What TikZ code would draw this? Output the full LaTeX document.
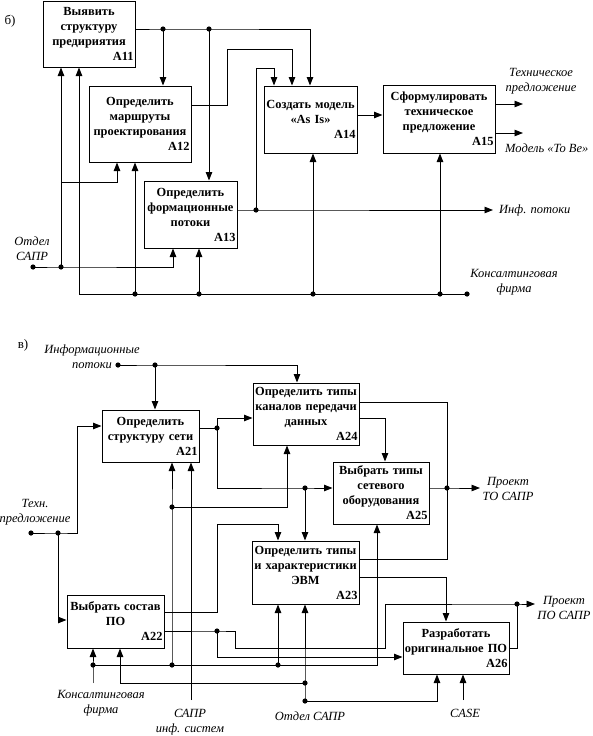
\documentclass[tikz,border=0pt]{standalone}
\usepackage{fontspec}
\setmainfont{Liberation Serif}
\usepackage{tikz}
\usetikzlibrary{arrows.meta, positioning, calc}

\begin{document}
\begin{tikzpicture}[
  x=1pt, y=-1pt,
  box/.style 2 args={rectangle, draw, line width=1pt, align=center,
    inner xsep=0pt, inner ysep=0pt, text width=#1pt, minimum height=#2pt,
    font=\fontsize{12.4}{15}\selectfont\bfseries},
  arr/.style={-{Triangle[length=8.5pt, width=6.5pt]}, line width=0.9pt},
  ln/.style={line width=0.9pt},
  lbl/.style={align=center, inner sep=0pt,
    font=\fontsize{12.5}{15}\selectfont\itshape},
  tag/.style={inner sep=0pt, font=\fontsize{13}{15}\selectfont}
]
\useasboundingbox (0,0) rectangle (593,736);

% part b
\node[tag] (tb) at (10,21) {б)};
\node[box={92}{66}] (a11) at (89,34) {Выявить\\структуру\\предириятия\\\hspace*{\fill}A11\kern1.5pt};
\node[box={102}{76}] (a12) at (140,124) {Определить\\маршруты\\проектирования\\\hspace*{\fill}A12\kern1.5pt};
\node[box={93}{67}] (a13) at (190.5,214.5) {Определить\\формационные\\потоки\\\hspace*{\fill}A13\kern1.5pt};
\node[box={93}{67}] (a14) at (310.5,119.5) {Создать модель\\«As Is»\\\hspace*{\fill}A14\kern1.5pt};
\node[box={112}{68}] (a15) at (439,119) {Сформулировать\\техническое\\предложение\\\hspace*{\fill}A15\kern1.5pt};

\coordinate (j1) at (163,29);
\coordinate (j2) at (209,29);
\coordinate (j3) at (256,210);
\coordinate (otd1) at (33,267);
\coordinate (j4) at (61,267);
\coordinate (j9) at (61,182);
\coordinate (kons1) at (467,294);
\coordinate (j5) at (135,294);
\coordinate (j6) at (199,294);
\coordinate (j7) at (313,294);
\coordinate (j8) at (440,294);
\coordinate (inf) at (493,210);
\coordinate (tp) at (523,104);
\coordinate (tobe) at (523,133);

\draw[arr] (a11.east |- j1) -- (j1) -- (j2) -| (a14.north -| 310,0);
\draw[arr] (j1) -- (j1 |- a12.north);
\draw[arr] (j2) -- (j2 |- a13.north);
\draw[arr] (a12.east |- 0,105) -| (227,49) -| (a14.north -| 292,0);
\draw[arr] (a13.east |- j3) -- (j3) -- (inf);
\draw[arr] (j3) |- (274,68) -- (a14.north -| 274,0);
\draw[arr] (a14.east |- 0,115) -- (a15.west |- 0,115);
\draw[arr] (a15.east |- tp) -- (tp);
\draw[arr] (a15.east |- tobe) -- (tobe);
\draw[arr] (otd1) -- (j4) -| (a13.south -| 173,0);
\draw[arr] (j4) -- (j4 |- a11.south);
\draw[arr] (j9) -| (a12.south -| 117,0);
\draw[arr] (kons1) -| (a11.south -| 79,0);
\draw[arr] (j5) -- (j5 |- a12.south);
\draw[arr] (j6) -- (j6 |- a13.south);
\draw[arr] (j7) -- (j7 |- a14.south);
\draw[arr] (j8) -- (j8 |- a15.south);

\node[lbl] (ltp) at (541,81) {Техническое\\предложение};
\node[lbl, anchor=west] (ltobe) at (505,148) {Модель «To Be»};
\node[lbl, anchor=west] (linf) at (499,210) {Инф. потоки};
\node[lbl] (lkons1) at (514,282) {Консалтинговая\\фирма};
\node[lbl] (lotd1) at (32,249) {Отдел\\САПР};

% part v
\node[tag] (tv) at (23,345) {в)};
\node[box={97}{52}] (a21) at (150.5,436) {Определить\\структуру сети\\\hspace*{\fill}A21\kern1.5pt};
\node[box={106}{62}] (a24) at (306,414) {Определить типы\\каналов передачи\\данных\\\hspace*{\fill}A24\kern1.5pt};
\node[box={96}{62}] (a25) at (381,493) {Выбрать типы\\сетевого\\оборудования\\\hspace*{\fill}A25\kern1.5pt};
\node[box={107}{63}] (a23) at (305.5,572.5) {Определить типы\\и характеристики\\ЭВМ\\\hspace*{\fill}A23\kern1.5pt};
\node[box={97}{53}] (a22) at (115.5,621.5) {Выбрать состав\\ПО\\\hspace*{\fill}A22\kern1.5pt};
\node[box={106}{52}] (a26) at (456,648) {Разработать\\оригинальное~ПО\\\hspace*{\fill}A26\kern1.5pt};

\coordinate (inf2) at (118,365);
\coordinate (k1) at (155,365);
\coordinate (k2) at (217,428);
\coordinate (k3) at (305,488);
\coordinate (k4) at (447,488);
\coordinate (proTO) at (480,488);
\coordinate (tehn) at (31,533);
\coordinate (k5) at (58,533);
\coordinate (k6) at (172,507);
\coordinate (k7) at (217,631);
\coordinate (k8) at (517,604);
\coordinate (proPO) at (535,604);
\coordinate (kons2) at (93,683);
\coordinate (k9) at (93,665);
\coordinate (k10) at (172,665);
\coordinate (k11) at (278,665);
\coordinate (otd2) at (305,701);
\coordinate (k12) at (305,683);
\coordinate (sapr) at (191,700);
\coordinate (caseE) at (463,700);

\draw[arr] (inf2) -- (k1) -| (a24.north -| 297,0);
\draw[arr] (k1) -- (k1 |- a21.north);
\draw[ln] (a21.east |- k2) -- (k2);
\draw[arr] (k2) |- (a24.west |- 0,418);
\draw[arr] (k2) |- (k3) -- (a25.west |- k3);
\draw[arr] (k3) -- (k3 |- a23.north);
\draw[ln] (a24.east |- 0,402) -| (k4);
\draw[arr] (a24.east |- 0,418) -| (a25.north -| 385,0);
\draw[arr] (a25.east |- k4) -- (k4) -- (proTO);
\draw[ln] (a23.east |- 0,559) -| (k4);
\draw[arr] (a23.east |- 0,577) -| (a26.north -| 446,0);
\draw[arr] (tehn) -- (k5) -| (77,426) -- (a21.west |- 0,426);
\draw[arr] (k5) |- (a22.west |- 0,620);
\draw[arr] (a22.east |- 0,612) -| (217,524) -| (a23.north -| 278,0);
\draw[arr] (a22.east |- k7) -- (k7) -| (235,648) -| (385,604) -- (k8) -- (proPO);
\draw[arr] (k7) |- (a26.west |- 0,657);
\draw[ln] (a26.east |- 0,648) -| (k8);
\draw[arr] (k6) -| (a24.south -| 287,0);
\draw[arr] (kons2) -- (k9) -- (k9 |- a22.south);
\draw[arr] (k9) -| (a25.south -| 377,0);
\draw[arr] (k10) -- (k6) -- (k6 |- a21.south);
\draw[arr] (k11) -- (k11 |- a23.south);
\draw[arr] (sapr) -- (sapr |- a21.south);
\draw[arr] (otd2) -- (k12) -- (k12 |- a23.south);
\draw[arr] (k12) -| (a22.south -| 120,0);
\draw[arr] (otd2) -| (a26.south -| 437,0);
\draw[arr] (caseE) -- (caseE |- a26.south);

\node[lbl] (linf2) at (92,357) {Информационные\\потоки};
\node[lbl] (ltehn) at (35,512) {Техн.\\предложение};
\node[lbl] (lproTO) at (508,489) {Проект\\ТО САПР};
\node[lbl] (lproPO) at (564,608) {Проект\\ПО САПР};
\node[lbl] (lkons2) at (101,703) {Консалтинговая\\фирма};
\node[lbl] (lsapr) at (190,722) {САПР\\инф. систем};
\node[lbl] (lotd2) at (310,716) {Отдел САПР};
\node[lbl] (lcase) at (465,713) {CASE};

\foreach \p in {j1,j2,j3,otd1,j4,kons1,j5,j6,j7,j8,
  inf2,k1,k2,k3,k4,tehn,k5,k6,k7,k8,k9,k10,k11,otd2,k12}
  \fill (\p) circle (2.6pt);
\end{tikzpicture}
\end{document}
